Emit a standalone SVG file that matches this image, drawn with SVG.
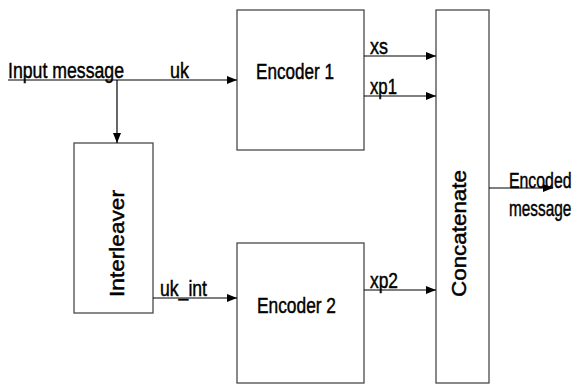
<svg xmlns="http://www.w3.org/2000/svg" width="580" height="385" viewBox="0 0 580 385">
<style>
.box{fill:#fff;stroke:#4a4a4a;stroke-width:1.3}
.wire{fill:none;stroke:#000;stroke-width:1.2;marker-end:url(#ah)}
.t{font-family:"Liberation Sans",Arial,sans-serif;font-size:22px;fill:#000;stroke:#000;stroke-width:0.45}
.r{font-family:"Liberation Sans",Arial,sans-serif;font-size:20px;fill:#000;stroke:#000;stroke-width:0.45}
</style>
<defs>
<marker id="ah" viewBox="0 0 10 8" refX="10" refY="4" markerWidth="10" markerHeight="8" markerUnits="userSpaceOnUse" orient="auto">
<path d="M0,0 L10,4 L0,8 Z" fill="#000"/>
</marker>
</defs>
<rect width="580" height="385" fill="#fff"/>
<g id="encoder1"><rect class="box" x="237" y="10" width="127" height="140"/><text class="t" x="256" y="79" textLength="78" lengthAdjust="spacingAndGlyphs">Encoder 1</text></g>
<g id="encoder2"><rect class="box" x="237" y="243" width="127" height="140"/><text class="t" x="257" y="313" textLength="79" lengthAdjust="spacingAndGlyphs">Encoder 2</text></g>
<g id="interleaver"><rect class="box" x="74" y="143" width="79" height="170"/><text class="r" transform="translate(124,297) rotate(-90)" textLength="107" lengthAdjust="spacingAndGlyphs">Interleaver</text></g>
<g id="concatenate"><rect class="box" x="436" y="10" width="53" height="373"/><text class="r" transform="translate(466,297) rotate(-90)" textLength="127" lengthAdjust="spacingAndGlyphs">Concatenate</text></g>
<g id="connectors">
<path class="wire" d="M8 80 H237"/>
<path class="wire" d="M117 80 V143"/>
<path class="wire" d="M364 56 H436"/>
<path class="wire" d="M364 96 H436"/>
<path class="wire" d="M153 298 H237"/>
<path class="wire" d="M364 290 H436"/>
<path class="wire" d="M489 188 H553"/>
</g>
<g id="labels">
<text class="t" x="8" y="78" textLength="116" lengthAdjust="spacingAndGlyphs">Input message</text>
<text class="t" x="170" y="78" textLength="19" lengthAdjust="spacingAndGlyphs">uk</text>
<text class="t" x="370" y="54" textLength="18" lengthAdjust="spacingAndGlyphs">xs</text>
<text class="t" x="370" y="94" textLength="27" lengthAdjust="spacingAndGlyphs">xp1</text>
<text class="t" x="160" y="296" textLength="47" lengthAdjust="spacingAndGlyphs">uk_int</text>
<text class="t" x="370" y="288" textLength="28" lengthAdjust="spacingAndGlyphs">xp2</text>
<text class="t" transform="translate(509,188) scale(0.72,1)">Encoded</text>
<text class="t" transform="translate(509,216) scale(0.7,1)">message</text>
</g>
</svg>
